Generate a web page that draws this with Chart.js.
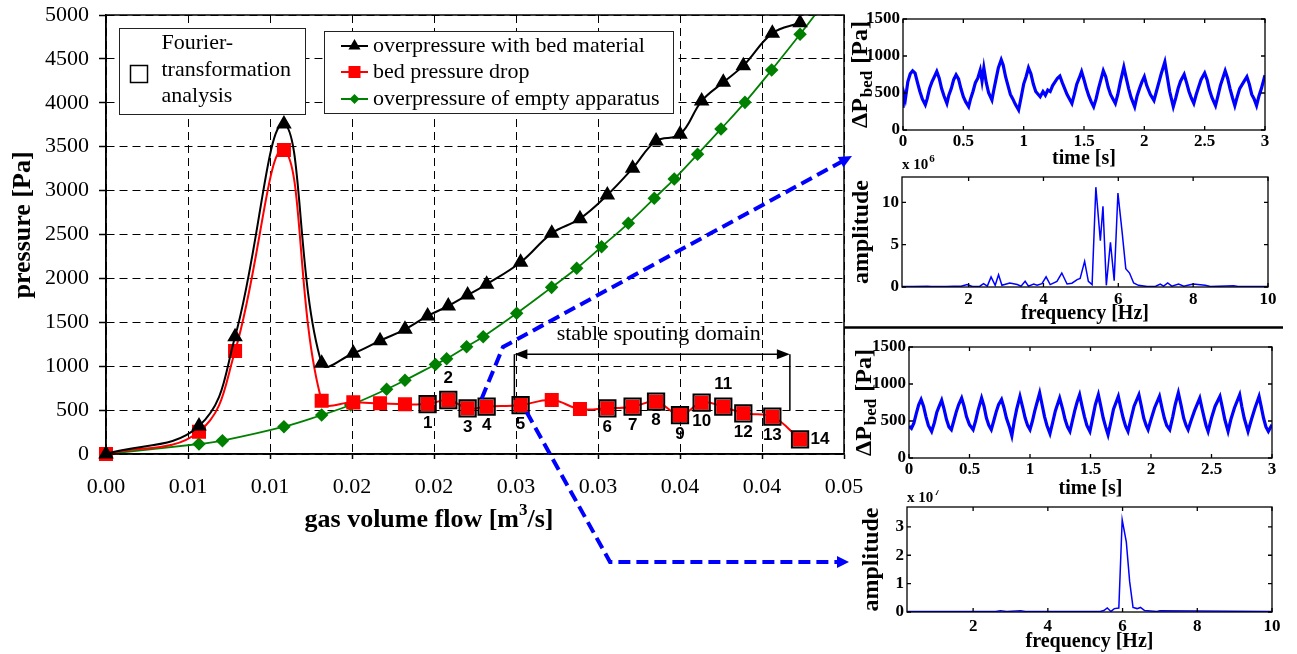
<!DOCTYPE html>
<html>
<head>
<meta charset="utf-8">
<script src="https://cdn.jsdelivr.net/npm/chart.js@4.4.1/dist/chart.umd.min.js"></script>
<style>
  body { margin: 0; background: #fff; }
  #wrap { position: relative; width: 1297px; height: 654px; overflow: hidden; }
  #wrap canvas { position: absolute; }
</style>
</head>
<body>
<div id="wrap">
  <canvas id="mainChart" width="1297" height="654" style="left:0;top:0"></canvas>
  <canvas id="tsTop" width="451" height="170" style="left:846px;top:0"></canvas>
  <canvas id="fftTop" width="451" height="180" style="left:846px;top:150px"></canvas>
  <canvas id="tsBottom" width="451" height="170" style="left:846px;top:330px"></canvas>
  <canvas id="fftBottom" width="451" height="164" style="left:846px;top:490px"></canvas>
</div>
<script>
// ── main chart: pressure vs gas volume flow ──
var flowBed = [0, 0.00567, 0.00787, 0.01085, 0.01315, 0.01508, 0.01671, 0.01823, 0.01961, 0.02087, 0.02205, 0.02321,
               0.02528, 0.02718, 0.0289, 0.03057, 0.03211, 0.03354, 0.035, 0.03632, 0.03764, 0.03886, 0.04063, 0.04232];
var overpressureBed = [0, 319, 1336, 3758, 1033, 1147, 1291, 1420, 1572, 1686, 1811, 1933,
                       2183, 2513, 2680, 2950, 3254, 3565, 3641, 4020, 4233, 4423, 4791, 4912];
var bedPressureDrop = [0, 254, 1173, 3462, 607, 588, 577, 566, 569, 615, 520, 539,
                       558, 615, 512, 520, 539, 596, 444, 585, 539, 463, 425, 167];
var flowEmpty = [0, 0.00567, 0.0071, 0.01085, 0.01315, 0.01492, 0.01711, 0.01823, 0.02009, 0.02077, 0.02199, 0.023,
                 0.02504, 0.02717, 0.0287, 0.03022, 0.03185, 0.03343, 0.03465, 0.03607, 0.0375, 0.03896, 0.04059, 0.04232, 0.0442];
var overpressureEmpty = [0, 114, 152, 311, 444, 558, 737, 839, 1020, 1084, 1222, 1336,
                         1602, 1898, 2115, 2361, 2627, 2912, 3132, 3413, 3702, 4005, 4374, 4780, 5240];
// red points analysed by Fourier transformation (indices into flowBed)
var fourierPoints = [8, 9, 10, 11, 12, 15, 16, 17, 18, 19, 20, 21, 22, 23];
var fourierLabels = ['1', '2', '3', '4', '5', '6', '7', '8', '9', '10', '11', '12', '13', '14'];
var fourierLabelSide = ['below', 'above', 'below', 'below', 'below', 'below', 'below', 'below', 'below', 'below', 'above', 'below', 'below', 'right'];
var flowTicks = [0, 0.005, 0.01, 0.015, 0.02, 0.025, 0.03, 0.035, 0.04, 0.045];
var flowTickLabels = ['0.00', '0.01', '0.01', '0.02', '0.02', '0.03', '0.03', '0.04', '0.04', '0.05'];
var pressureTicks = [0, 500, 1000, 1500, 2000, 2500, 3000, 3500, 4000, 4500, 5000];
var stableDomain = [0.0249, 0.0417];

// ── small panels ──
var timeTop = [0, 0.01, 0.02, 0.04, 0.06, 0.08, 0.10, 0.12, 0.14, 0.16, 0.185, 0.20, 0.22, 0.24, 0.26, 0.28, 0.30, 0.32, 0.34, 0.364,
  0.38, 0.40, 0.42, 0.44, 0.46, 0.48, 0.50, 0.52, 0.544, 0.56, 0.58, 0.60, 0.62, 0.64, 0.655, 0.67, 0.69, 0.71, 0.737, 0.75,
  0.77, 0.79, 0.814, 0.83, 0.85, 0.87, 0.89, 0.91, 0.93, 0.958, 0.98, 1.00, 1.02, 1.04, 1.06, 1.08, 1.10, 1.137, 1.16, 1.18,
  1.20, 1.22, 1.24, 1.26, 1.28, 1.30, 1.32, 1.34, 1.36, 1.38, 1.40, 1.42, 1.44, 1.46, 1.48, 1.50, 1.52, 1.54, 1.56, 1.58,
  1.60, 1.62, 1.64, 1.66, 1.68, 1.70, 1.72, 1.74, 1.76, 1.78, 1.80, 1.83, 1.85, 1.87, 1.89, 1.92, 1.94, 1.96, 1.98, 2.00,
  2.02, 2.05, 2.08, 2.10, 2.12, 2.14, 2.17, 2.19, 2.21, 2.24, 2.26, 2.28, 2.30, 2.33, 2.35, 2.37, 2.39, 2.41, 2.43, 2.45,
  2.47, 2.50, 2.52, 2.54, 2.56, 2.59, 2.61, 2.63, 2.65, 2.67, 2.69, 2.71, 2.73, 2.75, 2.77, 2.79, 2.82, 2.85, 2.87, 2.89,
  2.91, 2.93, 2.95, 2.97, 3.00];
var dpTop = [300, 480, 420, 650, 760, 800, 770, 640, 520, 420, 340, 420, 560, 650, 720, 790, 700, 560, 460, 360,
  470, 560, 680, 745, 690, 560, 450, 380, 315, 420, 520, 640, 700, 810, 660, 840, 640, 500, 405, 520,
  680, 840, 950, 880, 720, 600, 480, 420, 350, 270, 450, 620, 720, 840, 760, 620, 520, 450, 520, 470,
  540, 520, 600, 650, 700, 730, 640, 560, 480, 420, 360, 480, 620, 700, 790, 680, 560, 460, 380, 315,
  420, 560, 680, 800, 720, 580, 480, 420, 360, 480, 640, 850, 700, 560, 440, 315, 460, 560, 650, 720,
  600, 480, 400, 520, 640, 760, 920, 720, 520, 315, 430, 560, 660, 750, 640, 520, 430, 360, 480, 580,
  680, 770, 680, 540, 440, 330, 460, 600, 700, 800, 700, 560, 440, 330, 450, 560, 640, 720, 620, 480,
  420, 330, 460, 560, 740];
var timeBottom = [0, 0.02, 0.04, 0.06, 0.08, 0.10, 0.12, 0.14, 0.16, 0.187, 0.21, 0.23, 0.25, 0.27, 0.29, 0.31, 0.33, 0.35, 0.37, 0.39,
  0.41, 0.435, 0.455, 0.475, 0.50, 0.53, 0.55, 0.57, 0.60, 0.62, 0.64, 0.66, 0.68, 0.70, 0.72, 0.74, 0.765, 0.785, 0.805, 0.83,
  0.85, 0.87, 0.89, 0.917, 0.94, 0.96, 0.98, 1.00, 1.02, 1.04, 1.06, 1.08, 1.10, 1.12, 1.14, 1.165, 1.19, 1.21, 1.245, 1.27,
  1.29, 1.31, 1.33, 1.35, 1.37, 1.39, 1.41, 1.43, 1.45, 1.47, 1.495, 1.52, 1.54, 1.565, 1.585, 1.605, 1.625, 1.645, 1.67, 1.69,
  1.73, 1.75, 1.77, 1.79, 1.81, 1.83, 1.86, 1.90, 1.92, 1.94, 1.96, 1.976, 2.00, 2.03, 2.07, 2.09, 2.11, 2.13, 2.155, 2.18,
  2.20, 2.226, 2.25, 2.27, 2.29, 2.307, 2.33, 2.36, 2.403, 2.42, 2.44, 2.455, 2.472, 2.50, 2.53, 2.57, 2.59, 2.61, 2.637, 2.66,
  2.69, 2.733, 2.75, 2.77, 2.802, 2.83, 2.86, 2.893, 2.91, 2.93, 2.95, 2.97, 3.00];
var dpBottom = [430, 400, 470, 600, 720, 790, 700, 560, 440, 360, 480, 620, 700, 780, 660, 520, 420, 383, 500, 620,
  720, 810, 700, 560, 450, 383, 500, 640, 810, 700, 540, 440, 383, 500, 620, 720, 790, 680, 540, 420,
  300, 500, 660, 833, 680, 540, 440, 383, 500, 640, 760, 880, 720, 560, 440, 330, 500, 640, 810, 660,
  520, 420, 360, 500, 640, 760, 855, 700, 560, 440, 360, 560, 720, 855, 700, 540, 420, 315, 500, 660,
  833, 680, 540, 430, 360, 500, 700, 855, 700, 540, 440, 383, 520, 680, 833, 680, 540, 440, 383, 560,
  720, 880, 700, 540, 440, 383, 500, 640, 810, 680, 540, 440, 360, 540, 700, 833, 680, 520, 360, 520,
  680, 855, 700, 540, 360, 520, 680, 833, 700, 540, 420, 360, 450];
var freqTop = [0.22, 0.5, 0.9, 1.0, 1.4, 1.6, 1.8, 1.96, 2.1, 2.3, 2.4, 2.5, 2.6, 2.71, 2.8, 2.89, 3.1, 3.3, 3.4, 3.51,
  3.6, 3.74, 3.83, 3.96, 4.07, 4.18, 4.36, 4.49, 4.63, 4.76, 4.9, 4.98, 5.1, 5.2, 5.3, 5.4, 5.52, 5.59, 5.68, 5.79,
  5.89, 5.99, 6.1, 6.2, 6.3, 6.41, 6.54, 6.77, 7.0, 7.12, 7.21, 7.32, 7.43, 7.61, 7.75, 8.0, 8.32, 8.46, 9.08, 9.2, 10];
var ampTop = [0.05, 0.05, 0.1, 0.05, 0.05, 0.1, 0.1, 0.28, 0.05, 0.1, 0.4, 0.1, 1.2, 0.2, 1.45, 0.2, 0.47, 0.3, 0.1, 0.67,
  0.1, 0.35, 0.2, 0.4, 1.2, 0.28, 0.67, 1.65, 0.35, 0.45, 0.87, 1.0, 3.03, 0.67, 0.28, 11.8, 5.47, 9.53, 0.2, 5.28,
  0.75, 11.1, 6.57, 2.17, 1.65, 0.47, 0.2, 0.05, 0.1, 0.35, 0.1, 0.47, 0.1, 0.35, 0.1, 0.35, 0.2, 0.05, 0.15, 0.05, 0.05];
var freqBottom = [0.23, 2.6, 2.73, 2.9, 3.27, 3.4, 5.4, 5.5, 5.59, 5.69, 5.78, 5.9, 5.99, 6.1, 6.19, 6.28, 6.39, 6.48, 6.59, 6.92, 7.0, 10];
var ampBottom = [0.02, 0.02, 0.04, 0.02, 0.04, 0.02, 0.02, 0.05, 0.14, 0.02, 0.12, 0.14, 3.25, 2.47, 1.07, 0.16, 0.12, 0.16, 0.05, 0.02, 0.04, 0.02];
var timeTicks = [0, 0.5, 1, 1.5, 2, 2.5, 3];
var dpTicks = [0, 500, 1000, 1500];
var freqTicks = [2, 4, 6, 8, 10];
var ampTopTicks = [0, 5, 10];
var ampBottomTicks = [0, 1, 2, 3];

var SERIF = "'Liberation Serif', 'Times New Roman', serif";
var SANS = "'Liberation Sans', Arial, sans-serif";
var BLUE = '#0000ff';

function pts(xs, ys) {
    return xs.map(function(v, i) { return { x: v, y: ys[i] }; });
}

function useTicks(list) {
    return function(scale) { scale.ticks = list.map(function(v) { return { value: v }; }); };
}

function marker(ctx, style, x, y, r) {
    ctx.beginPath();
    if (style === 'triangle') {
        ctx.moveTo(x, y - r); ctx.lineTo(x + r * 0.866, y + r * 0.5); ctx.lineTo(x - r * 0.866, y + r * 0.5);
    } else if (style === 'rect') {
        ctx.rect(x - r * 0.707, y - r * 0.707, r * 1.414, r * 1.414);
    } else {
        ctx.moveTo(x, y - r); ctx.lineTo(x + r, y); ctx.lineTo(x, y + r); ctx.lineTo(x - r, y);
    }
    ctx.closePath();
    ctx.fill();
}

function arrowHead(ctx, tx, ty, ang, len, half) {
    ctx.beginPath();
    ctx.moveTo(tx, ty);
    ctx.lineTo(tx - len * Math.cos(ang) + half * Math.sin(ang), ty - len * Math.sin(ang) - half * Math.cos(ang));
    ctx.lineTo(tx - len * Math.cos(ang) - half * Math.sin(ang), ty - len * Math.sin(ang) + half * Math.cos(ang));
    ctx.closePath();
    ctx.fill();
}

function dashedArrow(ctx, path, len, half) {
    var n = path.length;
    var ang = Math.atan2(path[n - 1][1] - path[n - 2][1], path[n - 1][0] - path[n - 2][0]);
    ctx.save();
    ctx.strokeStyle = BLUE; ctx.fillStyle = BLUE; ctx.lineWidth = 4; ctx.setLineDash([12, 6]);
    ctx.beginPath();
    ctx.moveTo(path[0][0], path[0][1]);
    for (var i = 1; i < n - 1; i++) ctx.lineTo(path[i][0], path[i][1]);
    ctx.lineTo(path[n - 1][0] - len * 0.8 * Math.cos(ang), path[n - 1][1] - len * 0.8 * Math.sin(ang));
    ctx.stroke();
    ctx.setLineDash([]);
    arrowHead(ctx, path[n - 1][0], path[n - 1][1], ang, len, half);
    ctx.restore();
}

// ── decorations of the main chart: frame, titles, legends, annotations ──
var mainDecor = {
    id: 'mainDecor',
    afterDraw: function(chart) {
        var ctx = chart.ctx, a = chart.chartArea, sx = chart.scales.x, sy = chart.scales.y;
        ctx.save();
        ctx.strokeStyle = '#000'; ctx.fillStyle = '#000'; ctx.lineWidth = 1.5;
        ctx.strokeRect(a.left, a.top, a.right - a.left, a.bottom - a.top);

        // axis titles
        ctx.textBaseline = 'middle'; ctx.textAlign = 'left';
        var big = 'bold 26px ' + SERIF, sup = 'bold 17px ' + SERIF;
        ctx.font = big;
        var w1 = ctx.measureText('gas volume flow [m').width, w3 = ctx.measureText('/s]').width;
        ctx.font = sup;
        var w2 = ctx.measureText('3').width;
        var x0 = 429 - (w1 + w2 + w3) / 2;
        ctx.font = big; ctx.fillText('gas volume flow [m', x0, 520);
        ctx.font = sup; ctx.fillText('3', x0 + w1, 511);
        ctx.font = big; ctx.fillText('/s]', x0 + w1 + w2, 520);
        ctx.save();
        ctx.translate(23, 225); ctx.rotate(-Math.PI / 2); ctx.textAlign = 'center';
        ctx.fillText('pressure [Pa]', 0, 0);
        ctx.restore();

        // legend 1
        ctx.lineWidth = 1; ctx.strokeStyle = '#222';
        ctx.fillStyle = '#fff'; ctx.fillRect(119, 28, 186, 86); ctx.strokeRect(119.5, 28.5, 186, 86);
        ctx.lineWidth = 1.5; ctx.strokeStyle = '#000';
        ctx.strokeRect(130.5, 65.5, 17, 17);
        ctx.fillStyle = '#000'; ctx.font = '22px ' + SERIF;
        ctx.fillText('Fourier-', 161.5, 43);
        ctx.fillText('transformation', 161.5, 70);
        ctx.fillText('analysis', 161.5, 96);

        // legend 2
        ctx.lineWidth = 1; ctx.strokeStyle = '#222';
        ctx.fillStyle = '#fff'; ctx.fillRect(324, 31, 349, 82); ctx.strokeRect(324.5, 31.5, 349, 82);
        var rows = [
            { text: 'overpressure with bed material', color: '#000', style: 'triangle', r: 7, y: 46 },
            { text: 'bed pressure drop', color: '#ff0000', style: 'rect', r: 8.5, y: 72 },
            { text: 'overpressure of empty apparatus', color: '#008000', style: 'diamond', r: 5, y: 99 }
        ];
        rows.forEach(function(row) {
            ctx.strokeStyle = row.color; ctx.fillStyle = row.color; ctx.lineWidth = 2;
            ctx.beginPath(); ctx.moveTo(341, row.y); ctx.lineTo(368, row.y); ctx.stroke();
            marker(ctx, row.style, 354.5, row.y, row.r);
            ctx.fillStyle = '#000';
            ctx.fillText(row.text, 373, row.y);
        });

        // stable spouting domain
        var xl = sx.getPixelForValue(stableDomain[0]), xr = sx.getPixelForValue(stableDomain[1]);
        var ya = sy.getPixelForValue(1135);
        ctx.strokeStyle = '#000'; ctx.fillStyle = '#000'; ctx.lineWidth = 1.5;
        ctx.beginPath();
        ctx.moveTo(xl + 10, ya); ctx.lineTo(xr - 10, ya);
        ctx.moveTo(xl, ya); ctx.lineTo(xl, sy.getPixelForValue(615));
        ctx.moveTo(xr, ya); ctx.lineTo(xr, sy.getPixelForValue(500));
        ctx.stroke();
        arrowHead(ctx, xl, ya, Math.PI, 13, 5);
        arrowHead(ctx, xr, ya, 0, 13, 5);
        ctx.textAlign = 'center';
        ctx.fillText('stable spouting domain', sx.getPixelForValue(0.0337), sy.getPixelForValue(1365));

        // Fourier point numbers
        ctx.font = 'bold 17px ' + SANS;
        fourierPoints.forEach(function(idx, k) {
            var px = sx.getPixelForValue(flowBed[idx]), py = sy.getPixelForValue(bedPressureDrop[idx]);
            var side = fourierLabelSide[k];
            if (side === 'above') py -= 22; else if (side === 'right') px += 20; else py += 19;
            ctx.fillText(fourierLabels[k], px, py);
        });

        // blue dashed links to the spectra
        var p4 = [sx.getPixelForValue(flowBed[11]), sy.getPixelForValue(bedPressureDrop[11])];
        var p5 = [sx.getPixelForValue(flowBed[12]), sy.getPixelForValue(bedPressureDrop[12])];
        dashedArrow(ctx, [[p4[0] - 5, p4[1] - 8], [503, 347], [852, 156]], 13, 6);
        dashedArrow(ctx, [[p5[0] + 6, p5[1] + 7], [610, 562], [849, 562]], 12, 6);

        // separator between the two spectra blocks
        ctx.strokeStyle = '#000'; ctx.lineWidth = 2.5;
        ctx.beginPath(); ctx.moveTo(844, 327.5); ctx.lineTo(1283, 327.5); ctx.stroke();
        ctx.restore();
    }
};

new Chart(document.getElementById('mainChart'), {
    type: 'scatter',
    data: {
        datasets: [
            { label: 'Fourier-transformation analysis', data: fourierPoints.map(function(i) { return { x: flowBed[i], y: bedPressureDrop[i] }; }),
              showLine: false, pointStyle: 'rect', pointRadius: 11.5, pointBorderWidth: 2, pointBorderColor: '#000', pointBackgroundColor: 'rgba(0,0,0,0)' },
            { label: 'overpressure with bed material', data: pts(flowBed, overpressureBed), showLine: true, tension: 0.4,
              borderColor: '#000', borderWidth: 2, pointStyle: 'triangle', pointRadius: 7, pointBackgroundColor: '#000', pointBorderColor: '#000',
              clip: { left: 12, top: 0, right: 0, bottom: 12 } },
            { label: 'bed pressure drop', data: pts(flowBed, bedPressureDrop), showLine: true, tension: 0.4,
              borderColor: '#ff0000', borderWidth: 2, pointStyle: 'rect', pointRadius: 8.5, pointBackgroundColor: '#ff0000', pointBorderColor: '#ff0000',
              clip: { left: 12, top: 0, right: 0, bottom: 12 } },
            { label: 'overpressure of empty apparatus', data: pts(flowEmpty, overpressureEmpty), showLine: true, tension: 0.4,
              borderColor: '#008000', borderWidth: 1.8, pointStyle: 'rectRot', pointRadius: 5.5, pointBackgroundColor: '#008000', pointBorderColor: '#008000',
              clip: { left: 12, top: 0, right: 0, bottom: 12 } }
        ]
    },
    options: {
        responsive: false, animation: false, events: [],
        layout: { padding: { left: 0, top: 15, right: 453, bottom: 0 } },
        plugins: { legend: { display: false }, tooltip: { enabled: false } },
        scales: {
            x: {
                type: 'linear', min: 0, max: 0.045,
                afterBuildTicks: useTicks(flowTicks),
                afterFit: function(s) { s.height = 200; s.paddingLeft = 0; s.paddingRight = 0; },
                ticks: { callback: function(v, i) { return flowTickLabels[i]; }, font: { family: SERIF, size: 22 }, color: '#000', padding: 15, maxRotation: 0, autoSkip: false },
                grid: { color: '#000', lineWidth: 1, tickLength: 5, tickColor: '#000', tickWidth: 1.5 },
                border: { display: true, color: '#000', width: 1.5, dash: [8, 5] }
            },
            y: {
                min: 0, max: 5000,
                afterBuildTicks: useTicks(pressureTicks),
                afterFit: function(s) { s.width = 106; s.paddingTop = 0; s.paddingBottom = 0; },
                ticks: { callback: function(v) { return String(v); }, font: { family: SERIF, size: 22 }, color: '#000', padding: 10 },
                grid: { color: '#000', lineWidth: 1, tickLength: 7, tickColor: '#000', tickWidth: 1.5 },
                border: { display: true, color: '#000', width: 1.5, dash: [8, 5] }
            }
        }
    },
    plugins: [mainDecor]
});

// ── small MATLAB-style panels ──
function drawDeltaP(ctx, baseX, centerY) {
    var big = 'bold 24px ' + SERIF, small = 'bold 17px ' + SERIF;
    ctx.save();
    ctx.translate(baseX, centerY); ctx.rotate(-Math.PI / 2);
    ctx.fillStyle = '#000'; ctx.textBaseline = 'alphabetic'; ctx.textAlign = 'left';
    ctx.font = big;
    var w1 = ctx.measureText('ΔP').width, w3 = ctx.measureText(' [Pa]').width;
    ctx.font = small;
    var w2 = ctx.measureText('bed').width;
    var x0 = -(w1 + w2 + w3 + 2) / 2;
    ctx.font = big; ctx.fillText('ΔP', x0, 0);
    ctx.font = small; ctx.fillText('bed', x0 + w1 + 1, 5);
    ctx.font = big; ctx.fillText(' [Pa]', x0 + w1 + w2 + 2, 0);
    ctx.restore();
}

function drawExponent(ctx, x, y, exp) {
    ctx.save();
    ctx.fillStyle = '#000'; ctx.textBaseline = 'alphabetic'; ctx.textAlign = 'left';
    ctx.font = 'bold 15px ' + SERIF;
    ctx.fillText('x 10', x, y);
    var w = ctx.measureText('x 10').width;
    ctx.font = 'bold 11px ' + SERIF;
    ctx.fillText(exp, x + w + 1, y - 7);
    ctx.restore();
}

function panelDecor(extra) {
    return {
        id: 'panelDecor',
        afterDraw: function(chart) {
            var ctx = chart.ctx, a = chart.chartArea, sx = chart.scales.x, sy = chart.scales.y, tl = 4;
            ctx.save();
            ctx.strokeStyle = '#000'; ctx.lineWidth = 1.3;
            ctx.strokeRect(a.left, a.top, a.right - a.left, a.bottom - a.top);
            ctx.beginPath();
            sx.ticks.forEach(function(t) {
                var px = sx.getPixelForValue(t.value);
                ctx.moveTo(px, a.bottom); ctx.lineTo(px, a.bottom - tl);
                ctx.moveTo(px, a.top); ctx.lineTo(px, a.top + tl);
            });
            sy.ticks.forEach(function(t) {
                var py = sy.getPixelForValue(t.value);
                ctx.moveTo(a.left, py); ctx.lineTo(a.left + tl, py);
                ctx.moveTo(a.right, py); ctx.lineTo(a.right - tl, py);
            });
            ctx.stroke();
            ctx.restore();
            if (extra.deltaPX) drawDeltaP(ctx, extra.deltaPX, (a.top + a.bottom) / 2);
            if (extra.exponent) drawExponent(ctx, a.left, extra.exponentY, extra.exponent);
        }
    };
}

function smallPanel(id, canvasTop, canvasHeight, area, p) {
    var canvasLeft = 846, canvasWidth = 451;
    var tickFont = { family: SERIF, size: 17, weight: 'bold' };
    var titleFont = { family: SERIF, size: 20, weight: 'bold', lineHeight: 1 };
    return new Chart(document.getElementById(id), {
        type: 'scatter',
        data: { datasets: [{ data: pts(p.xs, p.ys), showLine: true, borderColor: BLUE, borderWidth: p.lineWidth, pointRadius: 0, tension: 0 }] },
        options: {
            responsive: false, animation: false, events: [],
            layout: { padding: { left: 0, top: area.top - canvasTop, right: canvasLeft + canvasWidth - area.right, bottom: 0 } },
            plugins: { legend: { display: false }, tooltip: { enabled: false } },
            scales: {
                x: {
                    type: 'linear', min: p.xMin, max: p.xMax,
                    afterBuildTicks: useTicks(p.xTicks),
                    afterFit: function(s) { s.height = canvasTop + canvasHeight - area.bottom; s.paddingLeft = 0; s.paddingRight = 0; },
                    grid: { display: false, drawTicks: false }, border: { display: false },
                    ticks: { callback: function(v) { return String(v); }, font: tickFont, color: '#000', padding: p.xPad, maxRotation: 0, autoSkip: false },
                    title: { display: true, text: p.xTitle, font: titleFont, color: '#000', padding: { top: 0, bottom: p.xTitlePad } }
                },
                y: {
                    min: p.yMin, max: p.yMax,
                    afterBuildTicks: useTicks(p.yTicks),
                    afterFit: function(s) { s.width = area.left - canvasLeft; s.paddingTop = 0; s.paddingBottom = 0; },
                    grid: { display: false, drawTicks: false }, border: { display: false },
                    ticks: { callback: function(v) { return String(v); }, font: tickFont, color: '#000', padding: 3 },
                    title: p.yTitle ? { display: true, text: p.yTitle, font: { family: SERIF, size: 24, weight: 'bold', lineHeight: 1 }, color: '#000', padding: { top: p.yTitlePad, bottom: 0 } } : { display: false }
                }
            }
        },
        plugins: [panelDecor(p.extra)]
    });
}

smallPanel('tsTop', 0, 170, { left: 903, top: 19, right: 1265, bottom: 130 }, {
    xs: timeTop, ys: dpTop, lineWidth: 3.2, xMin: 0, xMax: 3, yMin: 0, yMax: 1500, xTicks: timeTicks, yTicks: dpTicks,
    xPad: 1.5, xTitle: 'time [s]', xTitlePad: 0.7, extra: { deltaPX: 21 }
});
smallPanel('fftTop', 150, 180, { left: 902, top: 177, right: 1268, bottom: 287 }, {
    xs: freqTop, ys: ampTop, lineWidth: 1.5, xMin: 0.22, xMax: 10, yMin: 0, yMax: 13, xTicks: freqTicks, yTicks: ampTopTicks,
    xPad: 2.5, xTitle: 'frequency [Hz]', xTitlePad: 6, yTitle: 'amplitude', yTitlePad: 4, extra: { exponent: '6', exponentY: 19 }
});
smallPanel('tsBottom', 330, 170, { left: 909, top: 347, right: 1272, bottom: 458 }, {
    xs: timeBottom, ys: dpBottom, lineWidth: 3.2, xMin: 0, xMax: 3, yMin: 0, yMax: 1500, xTicks: timeTicks, yTicks: dpTicks,
    xPad: 1.5, xTitle: 'time [s]', xTitlePad: 1, extra: { deltaPX: 25 }
});
smallPanel('fftBottom', 490, 164, { left: 907, top: 507, right: 1272, bottom: 612 }, {
    xs: freqBottom, ys: ampBottom, lineWidth: 1.5, xMin: 0.23, xMax: 10, yMin: 0, yMax: 3.7, xTicks: freqTicks, yTicks: ampBottomTicks,
    xPad: 4, xTitle: 'frequency [Hz]', xTitlePad: 2.3, yTitle: 'amplitude', yTitlePad: 14, extra: { exponent: '7', exponentY: 12 }
});
</script>
</body>
</html>
